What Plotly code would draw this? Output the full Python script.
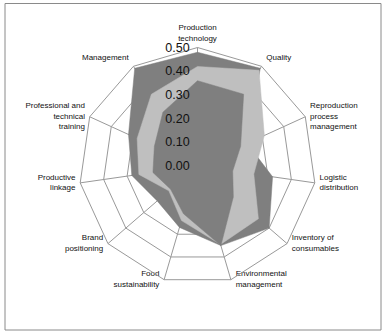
import plotly.graph_objects as go

categories = [
    "Production technology",
    "Quality",
    "Reproduction process management",
    "Logistic distribution",
    "Inventory of consumables",
    "Environmental management",
    "Food sustainability",
    "Brand positioning",
    "Productive linkage",
    "Professional and technical training",
    "Management",
]
# label text as shown on the chart (line breaks as in the original)
category_labels = [
    "Production<br>technology",
    "Quality",
    "Reproduction<br>process<br>management",
    "Logistic<br>distribution",
    "Inventory of<br>consumables",
    "Environmental<br>management",
    "Food<br>sustainability",
    "Brand<br>positioning",
    "Productive<br>linkage",
    "Professional and<br>technical<br>training",
    "Management",
]

series_a = [0.48, 0.49, 0.23, 0.32, 0.40, 0.35, 0.27, 0.225, 0.28, 0.32, 0.49]
series_b = [0.42, 0.48, 0.31, 0.24, 0.34, 0.345, 0.24, 0.16, 0.25, 0.28, 0.36]
series_c = [0.36, 0.36, 0.20, 0.15, 0.20, 0.35, 0.21, 0.15, 0.19, 0.20, 0.27]

tick_vals = [0.0, 0.1, 0.2, 0.3, 0.4, 0.5]
tick_text = ["0.00", "0.10", "0.20", "0.30", "0.40", "0.50"]

# style: where each category label sits relative to its outer vertex
label_positions = [
    "top center", "top right", "middle right", "middle right", "middle right",
    "middle right", "middle left", "middle left", "middle left", "middle left",
    "top left",
]

DARK = "#7f7f7f"
LIGHT = "#bfbfbf"
GRID = "#999999"
FONT = "Liberation Sans, Arial, sans-serif"

fig = go.Figure()
for vals, col in [(series_a, DARK), (series_b, LIGHT), (series_c, DARK)]:
    fig.add_trace(go.Scatterpolar(
        r=vals + vals[:1],
        theta=categories + categories[:1],
        mode="lines",
        fill="toself",
        fillcolor=col,
        line=dict(color=col, width=0.5),
        hoverinfo="skip",
        showlegend=False,
    ))

# category labels anchored at the outer ring (radial maximum)
r_max = tick_vals[-1]
fig.add_trace(go.Scatterpolar(
    r=[r_max] * len(categories),
    theta=categories,
    mode="markers+text",
    text=category_labels,
    textposition=label_positions,
    textfont=dict(size=8, family=FONT, color="#111111"),
    marker=dict(size=6, color="rgba(0,0,0,0)"),
    cliponaxis=False,
    hoverinfo="skip",
    showlegend=False,
))

W, H = 388, 332
cx, cy, R = 197.5, 166.0, 118.5
fig.update_layout(
    width=W, height=H,
    margin=dict(l=0, r=0, t=0, b=0),
    paper_bgcolor="white",
    plot_bgcolor="white",
    font=dict(family=FONT, color="#111111"),
    polar=dict(
        domain=dict(x=[(cx - R) / W, (cx + R) / W],
                    y=[(H - cy - R) / H, (H - cy + R) / H]),
        gridshape="linear",
        bgcolor="white",
        radialaxis=dict(
            range=[0, 0.5],
            tickvals=tick_vals,
            ticktext=tick_text,
            angle=90,
            tickangle=90,
            side="counterclockwise",
            showline=False,
            ticks="outside",
            ticklen=3,
            tickcolor="rgba(0,0,0,0)",
            gridcolor=GRID,
            gridwidth=1,
            layer="above traces",
            tickfont=dict(size=12.5, family=FONT, color="#111111"),
        ),
        angularaxis=dict(
            direction="clockwise",
            rotation=90,
            showline=True,
            linecolor=GRID,
            linewidth=1,
            gridcolor=GRID,
            gridwidth=1,
            ticks="",
            showticklabels=False,
            layer="above traces",
        ),
    ),
    shapes=[dict(type="rect", xref="paper", yref="paper",
                 x0=5 / W, x1=381 / W, y0=1 - 330 / H, y1=1 - 3.5 / H,
                 line=dict(color="#8a8a8a", width=1))],
)

fig.write_html(
    "out.html",
    config={"displayModeBar": False},
    post_script="document.body.style.margin='0';document.body.style.overflow='hidden';",
)
